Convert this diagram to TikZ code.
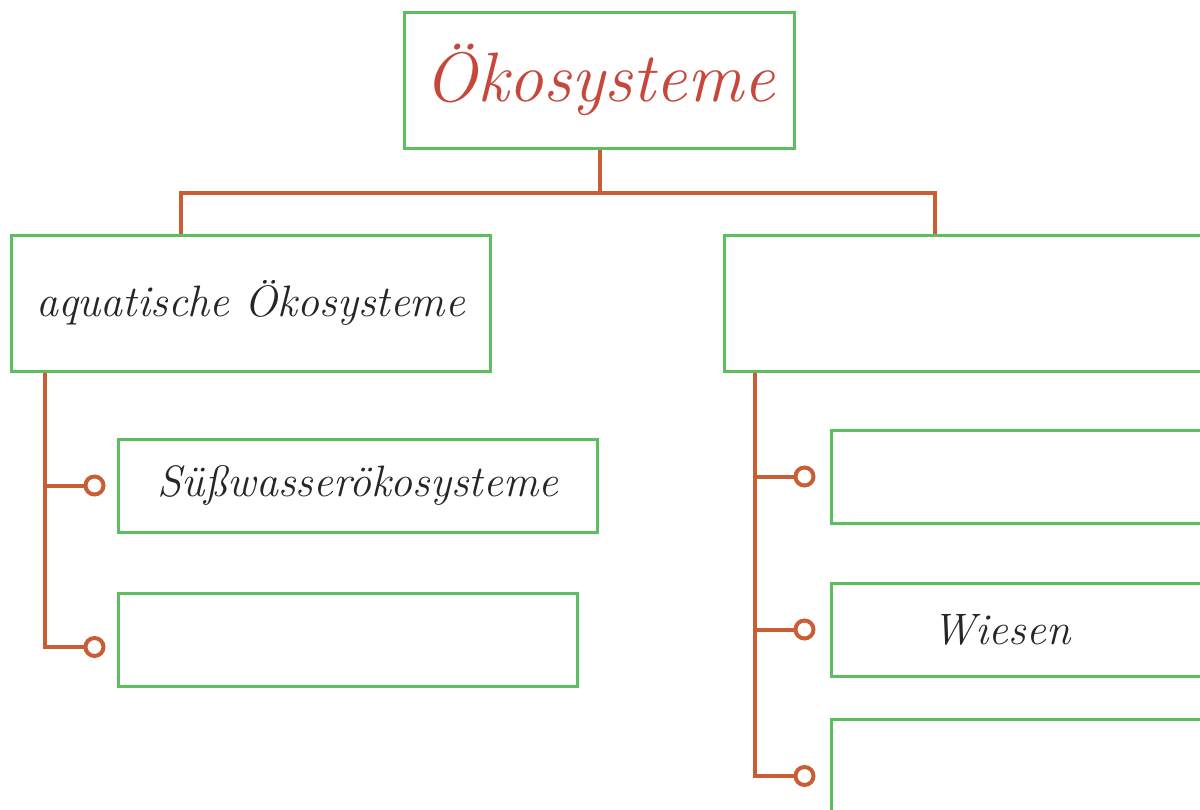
\documentclass[tikz,border=0pt]{standalone}
\usepackage{fontspec}
\usetikzlibrary{positioning,arrows.meta}
\definecolor{boxgreen}{HTML}{5DBE5F}
\definecolor{linered}{HTML}{C95E35}
\definecolor{titlered}{HTML}{C7473A}
\tikzset{
  kasten/.style={draw=boxgreen, line width=3pt, minimum width=479pt, minimum height=136pt, inner sep=0pt},
  klein/.style={minimum height=93pt},
  ast/.style={draw=linered, line width=4pt},
  ende/.style={-{Circle[open, length=22pt, width=22pt]}},
  schrift/.style={font=\fontsize{44}{50}\selectfont\itshape, text=black!85}
}

\begin{document}
\begin{tikzpicture}[x=1pt, y=-1pt]
  \clip (0,0) rectangle (1200,809);
  % boxes
  \node[kasten, minimum width=390pt, text=titlered, font=\fontsize{70}{80}\selectfont\itshape] (oeko) at (599.5,80) {Ökosysteme};
  \node[kasten, schrift] (aqua) at (250.5,303) {aquatische Ökosysteme};
  \node[kasten, minimum width=490pt] (terr) at (969,303) {};
  \node[kasten, klein, schrift] (suess) at (357.5,485.5) {Süßwasserökosysteme};
  \node[kasten, klein, minimum width=459pt] (aqb) at (347.5,639.5) {};
  \node[kasten, klein] (tra) at (1070.5,476.5) {};
  \node[kasten, klein] (trb) at (1070.5,629.5) {};
  \node[kasten, klein] (trc) at (1070.5,765.5) {};
  \node[schrift] (wiesen) at ([xshift=-69pt]trb.center) {Wiesen};
  % connectors
  \coordinate (knick) at ([yshift=-43pt]oeko.south);
  \draw[ast] (oeko.south) -- (knick);
  \draw[ast] ([xshift=171pt]aqua.north west) |- (knick) -| ([xshift=212pt]terr.north west);
  \coordinate (aqstamm) at ([xshift=35pt]aqua.south west);
  \coordinate (trstamm) at ([xshift=32pt]terr.south west);
  \draw[ast, ende] (aqstamm |- suess.west) -- ([xshift=-11pt]suess.west);
  \draw[ast, ende] (aqstamm) |- ([xshift=-11pt, yshift=-7.5pt]aqb.west);
  \draw[ast, ende] (trstamm |- tra.west) -- ([xshift=-14pt]tra.west);
  \draw[ast, ende] (trstamm |- trb.west) -- ([xshift=-14pt]trb.west);
  \draw[ast, ende] (trstamm) |- ([xshift=-14pt, yshift=-10.5pt]trc.west);
\end{tikzpicture}
\end{document}
